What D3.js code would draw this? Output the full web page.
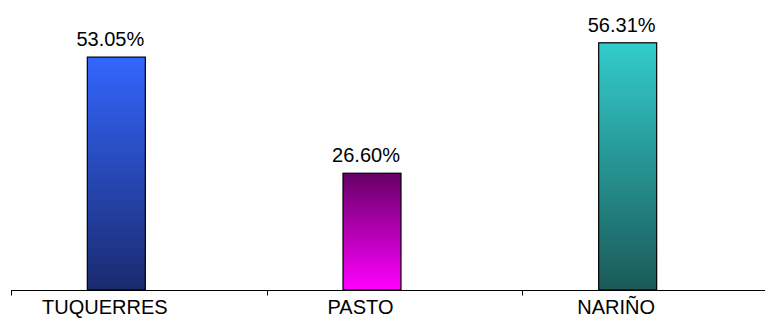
<!DOCTYPE html>
<html>
<head>
<meta charset="utf-8">
<script src="https://cdn.jsdelivr.net/npm/d3@7"></script>
<style>
  body { margin: 0; background: #fff; }
  text { font-family: "Liberation Sans", Arial, sans-serif; fill: #000; }
</style>
</head>
<body>
<div id="chart"></div>
<script>
// data
var categories = ["TUQUERRES", "PASTO", "NARIÑO"];
var values = [53.05, 26.60, 56.31];
var valueLabels = ["53.05%", "26.60%", "56.31%"];

// gradient stops per bar (top colour, bottom colour)
var gradTop = ["#3366ff", "#660066", "#33cccc"];
var gradBottom = ["#1a2a6e", "#ff00ff", "#1a5a58"];

var width = 765, height = 318;
var baseY = 290;

var svg = d3.select("#chart").append("svg")
  .attr("width", width)
  .attr("height", height);

var x = d3.scaleBand().domain(categories).range([11, 778]).padding(0);
var y = d3.scaleLinear().domain([0, 60]).range([baseY, baseY - 4.39 * 60]);

var defs = svg.append("defs");
categories.forEach(function(c, i) {
  var g = defs.append("linearGradient")
    .attr("id", "grad" + i)
    .attr("x1", 0).attr("y1", 0).attr("x2", 0).attr("y2", 1);
  g.append("stop").attr("offset", "0%").attr("stop-color", gradTop[i]);
  g.append("stop").attr("offset", "100%").attr("stop-color", gradBottom[i]);
});

var barW = 58;
var barShift = -22.5; // bars sit left of the band centre

var data = categories.map(function(c, i) {
  return { cat: c, val: values[i], label: valueLabels[i], i: i };
});

svg.selectAll("rect.bar").data(data).enter().append("rect")
  .attr("class", "bar")
  .attr("x", function(d) { return x(d.cat) + x.bandwidth() / 2 + barShift - barW / 2; })
  .attr("y", function(d) { return y(d.val); })
  .attr("width", barW)
  .attr("height", function(d) { return baseY - y(d.val); })
  .attr("fill", function(d) { return "url(#grad" + d.i + ")"; })
  .attr("stroke", "#000")
  .attr("stroke-width", 1.2);

svg.selectAll("text.val").data(data).enter().append("text")
  .attr("class", "val")
  .attr("x", function(d) { return x(d.cat) + x.bandwidth() / 2 + barShift - 6; })
  .attr("y", function(d) { return y(d.val) - 11; })
  .attr("text-anchor", "middle")
  .style("font-size", "20px")
  .text(function(d) { return d.label; });

// category axis
var axis = d3.axisBottom(x).tickSize(0).tickFormat("");
var ax = svg.append("g").attr("transform", "translate(0," + (baseY + 0.5) + ")").call(axis);
ax.select(".domain").remove();
ax.append("line").attr("x1", 11).attr("x2", width).attr("y1", 0).attr("y2", 0)
  .attr("stroke", "#000").attr("stroke-width", 1.2);
ax.selectAll(".tk").data(categories).enter().append("line")
  .attr("class", "tk")
  .attr("x1", function(d) { return Math.round(x(d)) + 0.5; })
  .attr("x2", function(d) { return Math.round(x(d)) + 0.5; })
  .attr("y1", 0).attr("y2", 5)
  .attr("stroke", "#000");

svg.selectAll("text.cat").data(data).enter().append("text")
  .attr("class", "cat")
  .attr("x", function(d) { return x(d.cat) + x.bandwidth() / 2 - 34; })
  .attr("y", 314)
  .attr("text-anchor", "middle")
  .style("font-size", "20px")
  .text(function(d) { return d.cat; });
</script>
</body>
</html>
